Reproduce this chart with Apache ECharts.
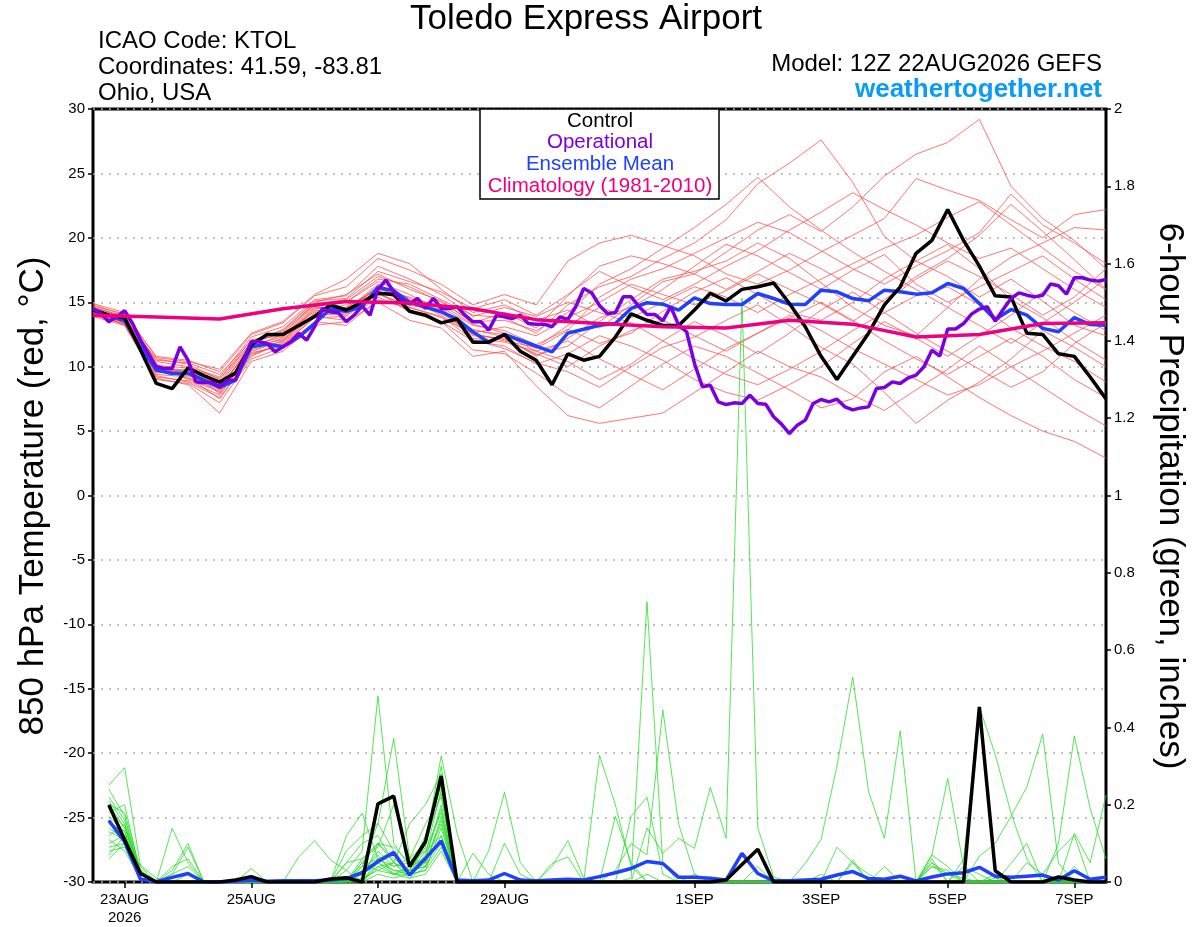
<!DOCTYPE html>
<html>
<head>
<meta charset="utf-8">
<title>Toledo Express Airport</title>
<style>
  html, body { margin: 0; padding: 0; background: #fff; }
  #chart { width: 1200px; height: 927px; }
</style>
</head>
<body>
<div id="chart"></div>
<script src="https://cdn.jsdelivr.net/npm/echarts/dist/echarts.min.js"></script>
<script>
// hours since 22AUG 12Z
var tickHours = [12, 60, 108, 156, 228, 276, 324, 372];
var tickLabels = ['23AUG\n2026', '25AUG', '27AUG', '29AUG', '1SEP', '3SEP', '5SEP', '7SEP'];

// control (6-hourly, from 22AUG12Z)
var controlTemp = [14.4, 14.0, 13.8, 11.3, 8.7, 8.3, 9.9, 9.3, 8.8, 9.5, 11.7, 12.5, 12.5, 13.2, 13.9, 14.8,
  14.4, 15.0, 15.7, 15.6, 14.3, 14.0, 13.4, 13.7, 11.9, 11.9, 12.5, 11.2, 10.5, 8.6, 11.0, 10.5,
  10.8, 12.3, 14.1, 13.6, 13.2, 13.2, 14.4, 15.7, 15.1, 16.0, 16.2, 16.5, 14.9, 13.1, 10.8, 9.0,
  10.8, 12.6, 14.8, 16.2, 18.8, 19.8, 22.2, 19.8, 17.8, 15.5, 15.4, 12.6, 12.5, 11.0, 10.8, 9.2, 7.5];
// ensemble mean (6-hourly)
var meanTemp = [14.4, 14.0, 13.55, 11.55, 9.73, 9.47, 9.5, 8.95, 8.4, 8.95, 11.55, 11.75, 11.55, 12.3, 13.35, 14.5,
  14.3, 14.65, 16.15, 15.9, 15.0, 14.65, 14.25, 13.7, 12.7, 11.9, 12.5, 12.05, 11.6, 11.15, 12.6, 12.9,
  13.22, 13.35, 14.52, 14.96, 14.85, 14.39, 15.34, 14.9, 14.83, 14.83, 15.68, 15.29, 14.85, 14.83, 15.94, 15.81,
  15.29, 15.11, 15.94, 15.81, 15.63, 15.73, 16.46, 16.07, 14.9, 13.66, 14.44, 14.0, 12.97, 12.71, 13.81, 13.27, 13.22];
// operational (3-hourly)
var operTemp = [14.52, 14.13, 13.48, 13.87, 14.34, 13.35, 12.06, 11.03, 9.99, 9.86, 9.86, 11.54, 10.5, 8.82, 8.75, 8.82,
  8.44, 8.95, 8.95, 10.5, 11.93, 11.93, 11.8, 11.15, 11.54, 11.93, 12.58, 12.06, 13.1, 14.52, 14.26, 14.18,
  13.5, 14.0, 14.7, 14.0, 16.0, 16.72, 15.81, 15.17, 14.86, 15.3, 14.52, 15.3, 14.52, 14.52, 14.65, 14.0,
  13.48, 13.48, 12.84, 14.0, 13.87, 13.74, 14.0, 13.35, 13.3, 13.3, 13.1, 13.87, 13.66, 14.65, 16.07, 15.74,
  14.75, 14.13, 14.18, 15.42, 15.42, 14.65, 14.05, 14.05, 13.56, 14.65, 13.22, 12.71, 10.25, 8.44, 8.56, 7.27,
  7.06, 7.19, 7.14, 7.79, 7.14, 7.09, 6.11, 5.54, 4.81, 5.46, 5.85, 7.14, 7.45, 7.27, 7.48, 6.88,
  6.65, 6.8, 6.88, 8.3, 8.38, 8.82, 8.69, 9.13, 9.34, 9.99, 11.28, 10.82, 12.92, 12.92, 13.35, 14.08,
  14.47, 14.65, 13.53, 14.44, 15.29, 15.73, 15.55, 15.42, 15.55, 16.41, 16.28, 15.63, 16.9, 16.9, 16.72, 16.64, 16.77];
// climatology (daily at 12Z)
var climTemp = [14.0, 13.85, 13.7, 14.5, 15.05, 14.95, 14.5, 13.65, 13.35, 13.1, 13.0, 13.6, 13.3, 12.3, 12.5, 13.35, 13.4];

// ensemble members, 850 hPa temperature (12-hourly)
var mem01 = [14.6, 13.9, 10.2, 9.0, 8.1, 11.8, 12.9, 15.0, 15.6, 17.2, 16.0, 15.1, 13.4, 14.2, 13.0, 15.5, 17.8, 18.6, 18.0, 17.2, 18.9, 20.6, 21.8, 20.5, 22.4, 24.8, 26.5, 27.4, 29.2, 24.0, 21.5, 19.8, 17.6];
var mem02 = [14.2, 13.4, 9.5, 9.8, 7.9, 11.0, 11.7, 13.8, 13.9, 15.8, 14.2, 13.5, 11.3, 11.0, 9.5, 7.8, 6.8, 8.5, 10.2, 11.6, 10.8, 9.5, 8.2, 6.8, 7.5, 9.6, 10.8, 9.2, 7.6, 6.2, 5.0, 4.2, 2.9];
var mem03 = [14.5, 13.7, 10.6, 10.2, 9.0, 12.1, 12.4, 14.9, 15.0, 16.8, 16.4, 15.2, 14.0, 13.8, 12.6, 14.8, 16.2, 17.0, 18.4, 19.6, 21.4, 24.2, 25.8, 27.6, 24.3, 20.1, 18.2, 17.0, 15.4, 16.8, 15.1, 13.2, 12.4];
var mem04 = [14.3, 13.2, 9.0, 8.7, 7.2, 10.6, 11.5, 13.5, 13.2, 15.2, 14.6, 13.9, 12.1, 11.4, 10.3, 9.6, 8.4, 10.0, 11.5, 12.3, 13.6, 14.8, 13.2, 11.5, 10.2, 8.0, 5.6, 7.4, 8.8, 10.6, 12.8, 11.5, 10.0];
var mem05 = [14.8, 14.0, 10.8, 10.5, 9.6, 12.5, 13.4, 15.5, 16.2, 18.4, 17.5, 16.4, 14.8, 15.6, 14.8, 18.2, 19.6, 20.2, 19.4, 18.6, 17.2, 16.4, 17.5, 18.9, 20.2, 21.5, 24.6, 23.7, 22.9, 21.4, 20.0, 21.8, 22.2];
var mem06 = [14.0, 13.5, 9.8, 9.1, 8.6, 11.3, 12.0, 14.2, 14.6, 16.0, 15.4, 14.6, 13.2, 12.8, 11.7, 12.9, 11.8, 12.6, 14.3, 15.8, 16.9, 15.6, 14.2, 13.6, 15.0, 16.8, 18.2, 19.5, 17.6, 15.2, 13.8, 12.0, 10.5];
var mem07 = [14.4, 13.6, 9.6, 9.4, 8.0, 11.4, 12.2, 14.6, 14.4, 16.4, 15.2, 14.0, 12.4, 12.2, 10.9, 11.6, 13.5, 15.2, 16.8, 17.4, 18.2, 19.6, 18.4, 16.5, 14.6, 13.2, 12.4, 14.6, 16.8, 18.5, 19.6, 20.8, 20.6];
var mem08 = [14.6, 13.8, 10.0, 9.6, 8.8, 11.9, 12.6, 14.8, 15.0, 16.6, 15.6, 14.4, 12.8, 12.5, 11.2, 10.4, 9.0, 10.2, 12.0, 13.5, 12.4, 11.0, 12.6, 14.4, 15.8, 14.2, 12.6, 11.2, 9.8, 8.4, 9.6, 11.8, 13.4];
var mem09 = [14.1, 13.3, 9.3, 8.8, 7.6, 10.9, 11.8, 14.0, 14.1, 15.6, 14.8, 14.2, 12.6, 13.1, 12.4, 13.8, 15.0, 16.4, 15.6, 14.8, 15.9, 17.2, 16.0, 14.9, 13.5, 15.2, 17.0, 18.4, 20.2, 22.6, 20.5, 18.3, 16.0];
var mem10 = [14.7, 14.1, 10.4, 10.0, 9.2, 12.3, 13.1, 15.2, 15.5, 17.8, 16.8, 15.6, 13.9, 14.6, 13.9, 15.0, 14.2, 13.4, 12.0, 10.6, 9.4, 8.6, 9.8, 11.2, 12.8, 14.2, 15.5, 16.2, 14.8, 13.0, 11.6, 10.4, 8.8];
var mem11 = [14.3, 13.5, 9.9, 9.7, 8.3, 11.6, 12.1, 14.4, 14.0, 15.9, 14.9, 14.3, 12.9, 12.3, 10.8, 12.2, 13.8, 14.6, 16.0, 17.8, 19.5, 18.6, 17.3, 16.0, 17.5, 18.7, 16.4, 15.0, 16.2, 17.4, 18.6, 16.8, 15.2];
var mem12 = [13.9, 13.2, 9.2, 8.9, 7.8, 11.1, 11.6, 13.9, 13.6, 15.4, 14.4, 13.5, 12.0, 11.6, 10.2, 11.0, 12.4, 11.6, 10.5, 9.0, 8.0, 7.4, 8.6, 10.0, 11.8, 13.5, 12.2, 10.8, 12.4, 14.0, 15.8, 14.2, 12.8];
var mem13 = [14.6, 13.9, 10.1, 9.9, 9.1, 11.8, 12.7, 14.9, 15.2, 17.0, 16.2, 15.0, 13.5, 13.6, 12.8, 14.2, 16.4, 17.6, 19.2, 20.8, 22.6, 24.7, 22.4, 20.6, 18.9, 17.4, 16.0, 14.6, 13.2, 11.8, 13.4, 15.0, 16.8];
var mem14 = [14.2, 13.4, 9.4, 9.2, 7.5, 10.8, 11.9, 14.1, 14.2, 16.2, 15.0, 14.6, 12.2, 11.9, 11.2, 12.0, 10.6, 9.4, 8.2, 9.8, 11.4, 12.6, 14.0, 12.8, 11.4, 10.2, 9.0, 7.8, 8.6, 10.0, 11.2, 12.6, 14.0];
var mem15 = [14.5, 13.6, 10.5, 10.3, 9.4, 12.0, 12.8, 15.1, 15.3, 17.4, 16.6, 15.8, 14.5, 15.2, 14.0, 15.6, 17.4, 16.2, 15.2, 16.4, 17.8, 19.0, 20.6, 22.0, 23.5, 22.2, 21.0, 19.6, 18.4, 19.2, 17.6, 16.0, 14.6];
var mem16 = [14.4, 13.7, 9.7, 9.3, 8.5, 11.5, 12.5, 14.3, 14.8, 15.7, 14.6, 13.8, 12.6, 12.0, 11.5, 13.2, 14.6, 13.8, 15.0, 16.2, 15.4, 14.2, 15.6, 16.8, 18.0, 19.2, 20.2, 21.6, 22.8, 21.0, 19.2, 17.4, 16.0];
var mem17 = [14.0, 13.3, 9.1, 8.6, 6.4, 10.4, 11.2, 13.2, 13.5, 15.0, 13.6, 13.0, 10.8, 11.2, 8.5, 6.2, 5.6, 6.0, 6.4, 8.0, 9.6, 11.2, 10.0, 9.2, 7.8, 6.6, 8.2, 9.8, 11.6, 10.0, 8.4, 6.8, 5.4];
var mem18 = [14.9, 14.2, 10.7, 10.4, 9.8, 12.6, 13.5, 15.6, 16.8, 18.8, 18.0, 16.0, 14.2, 14.8, 13.6, 14.4, 13.0, 14.8, 16.6, 17.2, 16.0, 17.4, 18.8, 17.6, 16.2, 15.0, 16.8, 18.2, 17.0, 15.6, 14.0, 15.4, 17.6];
var mem19 = [14.3, 13.6, 10.0, 9.4, 8.2, 11.2, 12.0, 14.5, 14.6, 16.1, 15.1, 14.8, 13.3, 12.6, 11.4, 12.8, 15.4, 16.8, 17.6, 18.8, 20.0, 21.2, 20.4, 19.0, 17.6, 16.4, 17.8, 19.0, 20.4, 23.4, 21.0, 19.6, 18.0];
var mem20 = [14.2, 13.5, 9.8, 9.5, 8.7, 11.7, 12.3, 14.7, 14.2, 16.3, 15.3, 14.2, 12.5, 12.1, 11.0, 10.0, 11.6, 12.8, 13.6, 12.4, 11.2, 12.6, 13.8, 15.0, 13.6, 12.0, 10.6, 9.4, 10.8, 12.2, 10.8, 9.0, 7.6];

// 6-hour precipitation (inches), ending 22AUG18Z .. 7SEP12Z
var controlPrecip = [0.199, 0.109, 0.022, 0, 0, 0, 0, 0, 0.005, 0.014, 0, 0, 0, 0, 0.008, 0.011,
  0, 0.202, 0.222, 0.04, 0.104, 0.274, 0, 0, 0, 0, 0, 0, 0, 0, 0, 0,
  0, 0, 0, 0, 0, 0, 0, 0.005, 0.045, 0.085, 0, 0, 0, 0, 0, 0,
  0, 0, 0, 0, 0, 0, 0, 0.453, 0.029, 0, 0, 0, 0.013, 0.005, 0, 0];
var meanPrecip = [0.159, 0.104, 0.007, 0.001, 0.012, 0.022, 0, 0, 0.002, 0.005, 0.002, 0.003, 0.003, 0.003, 0.005, 0.009,
  0.024, 0.053, 0.076, 0.018, 0.061, 0.106, 0.005, 0.003, 0.005, 0.022, 0.005, 0.003, 0.005, 0.007, 0.005, 0.014,
  0.024, 0.035, 0.053, 0.048, 0.012, 0.012, 0.01, 0.005, 0.074, 0.022, 0.003, 0.003, 0.005, 0.007, 0.018, 0.027,
  0.009, 0.007, 0.015, 0.003, 0.013, 0.021, 0.024, 0.038, 0.015, 0.012, 0.015, 0.018, 0.005, 0.029, 0.007, 0.012];

var pcp01 = [0.25, 0.296, 0.04, 0, 0.139, 0.05, 0, 0, 0, 0, 0, 0, 0, 0, 0, 0.03, 0.08, 0.481, 0.1, 0.04, 0.06, 0.2, 0, 0, 0, 0, 0, 0, 0, 0, 0, 0, 0, 0, 0.02, 0, 0, 0, 0, 0, 0, 0, 0, 0, 0, 0, 0, 0, 0, 0, 0, 0, 0.05, 0, 0, 0, 0, 0, 0, 0, 0, 0, 0, 0];
var pcp02 = [0.2, 0.18, 0.03, 0, 0.03, 0.1, 0, 0, 0, 0.035, 0, 0, 0, 0, 0, 0.08, 0.12, 0.15, 0.372, 0.06, 0.1, 0.326, 0.126, 0, 0, 0, 0, 0, 0, 0, 0, 0, 0, 0, 0, 0, 0, 0.02, 0, 0, 0, 0, 0, 0, 0, 0, 0, 0, 0, 0, 0, 0, 0, 0, 0, 0, 0, 0, 0, 0, 0, 0.04, 0, 0];
var pcp03 = [0.12, 0.15, 0.02, 0, 0.02, 0.09, 0, 0, 0, 0.01, 0, 0, 0, 0, 0, 0, 0.05, 0.1, 0.05, 0.15, 0.2, 0.28, 0, 0.074, 0.02, 0, 0, 0, 0, 0, 0, 0, 0, 0, 0, 0, 0, 0, 0, 0, 0, 0, 0, 0, 0, 0, 0.09, 0.05, 0, 0, 0, 0, 0, 0, 0, 0, 0, 0, 0, 0, 0, 0, 0, 0];
var pcp04 = [0.06, 0.1, 0.044, 0.01, 0, 0, 0, 0, 0, 0, 0, 0, 0.065, 0.107, 0.057, 0.03, 0, 0.04, 0.02, 0.03, 0.12, 0.25, 0, 0, 0.081, 0.232, 0.05, 0, 0, 0, 0, 0, 0, 0, 0, 0, 0, 0, 0, 0, 0, 0, 0, 0, 0, 0, 0, 0, 0, 0, 0, 0, 0, 0, 0, 0, 0.02, 0, 0, 0, 0, 0, 0, 0];
var pcp05 = [0.18, 0.2, 0.02, 0, 0.04, 0.06, 0, 0, 0, 0, 0, 0, 0, 0, 0, 0.119, 0.178, 0.06, 0.08, 0.02, 0.05, 0.15, 0, 0, 0, 0.1, 0.02, 0, 0.04, 0.107, 0.01, 0, 0.17, 0.05, 0, 0, 0, 0, 0, 0, 0, 0, 0, 0, 0, 0, 0, 0, 0, 0, 0, 0, 0, 0, 0, 0, 0, 0, 0, 0, 0, 0, 0, 0];
var pcp06 = [0.15, 0.13, 0.01, 0, 0, 0, 0, 0, 0, 0, 0, 0, 0, 0, 0, 0, 0.06, 0.1, 0.09, 0.05, 0.08, 0.18, 0, 0, 0, 0, 0, 0, 0.048, 0.065, 0, 0.328, 0.2, 0.04, 0, 0, 0, 0, 0, 0, 0, 0, 0, 0, 0, 0.02, 0, 0, 0, 0, 0, 0, 0.07, 0.04, 0, 0, 0, 0, 0, 0, 0, 0, 0, 0];
var pcp07 = [0.22, 0.16, 0.03, 0, 0.02, 0.04, 0, 0, 0, 0, 0, 0, 0, 0, 0, 0.05, 0.1, 0.12, 0.05, 0.03, 0.09, 0.3, 0, 0, 0, 0, 0, 0, 0, 0, 0, 0, 0, 0.01, 0.725, 0.05, 0, 0, 0, 0, 0, 0, 0, 0, 0, 0, 0, 0, 0, 0, 0, 0, 0, 0, 0, 0, 0, 0, 0, 0, 0, 0, 0, 0];
var pcp08 = [0.1, 0.12, 0.02, 0, 0, 0, 0, 0, 0, 0, 0, 0, 0, 0, 0, 0.05, 0.06, 0.09, 0.2, 0.06, 0.15, 0.22, 0, 0, 0, 0, 0, 0, 0, 0, 0, 0, 0.03, 0.1, 0.07, 0.445, 0.15, 0.02, 0, 0, 0, 0, 0, 0, 0, 0, 0, 0, 0, 0, 0, 0, 0, 0, 0, 0, 0, 0, 0, 0, 0, 0, 0, 0];
var pcp09 = [0.16, 0.12, 0.02, 0, 0, 0, 0, 0, 0, 0, 0, 0, 0, 0, 0, 0, 0, 0.05, 0.02, 0.01, 0.04, 0.12, 0, 0, 0, 0, 0, 0, 0, 0, 0, 0, 0, 0, 0.14, 0.074, 0.113, 0.087, 0.245, 0.113, 1.51, 0.14, 0.013, 0, 0, 0, 0, 0, 0, 0, 0, 0, 0, 0, 0, 0, 0, 0, 0, 0, 0, 0, 0, 0];
var pcp10 = [0.19, 0.14, 0.03, 0, 0, 0.02, 0, 0, 0, 0, 0, 0, 0, 0, 0, 0, 0.04, 0.152, 0.08, 0.02, 0.1, 0.26, 0, 0, 0, 0, 0, 0, 0, 0, 0, 0, 0, 0.17, 0.22, 0.02, 0, 0, 0, 0, 0, 0.04, 0, 0, 0.048, 0.11, 0.3, 0.53, 0.234, 0.113, 0.391, 0, 0, 0, 0, 0, 0, 0, 0, 0, 0, 0, 0, 0];
var pcp11 = [0.13, 0.11, 0.01, 0, 0, 0, 0, 0, 0, 0, 0, 0, 0, 0, 0, 0, 0.02, 0.08, 0.04, 0.06, 0.05, 0.16, 0, 0, 0, 0, 0, 0, 0, 0, 0, 0, 0, 0, 0, 0, 0, 0, 0, 0, 0, 0, 0, 0, 0, 0, 0, 0.057, 0, 0, 0, 0, 0.07, 0.268, 0.04, 0, 0.01, 0, 0, 0, 0, 0, 0, 0];
var pcp12 = [0.09, 0.1, 0.02, 0, 0, 0, 0, 0, 0, 0, 0, 0, 0, 0, 0, 0, 0, 0.06, 0.03, 0.02, 0.07, 0.24, 0, 0, 0, 0, 0, 0, 0, 0, 0, 0, 0, 0, 0, 0, 0, 0, 0, 0, 0, 0, 0, 0, 0, 0, 0, 0, 0, 0, 0, 0, 0, 0, 0.058, 0.453, 0.33, 0.178, 0.06, 0, 0, 0, 0, 0, 0];
var pcp13 = [0.24, 0.17, 0.02, 0, 0, 0, 0, 0, 0, 0, 0, 0, 0, 0, 0, 0, 0, 0.1, 0.06, 0.03, 0.04, 0.1, 0, 0, 0, 0, 0, 0, 0, 0, 0, 0, 0, 0, 0, 0, 0, 0, 0, 0, 0, 0, 0, 0, 0, 0, 0, 0, 0, 0, 0, 0, 0, 0, 0, 0.067, 0.1, 0.17, 0.246, 0.383, 0.048, 0, 0, 0];
var pcp14 = [0.08, 0.09, 0.01, 0, 0, 0, 0, 0, 0, 0, 0, 0, 0, 0, 0, 0, 0, 0.04, 0.05, 0.02, 0.03, 0.14, 0, 0, 0, 0, 0, 0, 0, 0, 0, 0, 0, 0, 0, 0, 0, 0, 0, 0, 0, 0, 0, 0, 0, 0, 0, 0, 0, 0, 0, 0, 0, 0, 0, 0, 0, 0, 0, 0, 0.1, 0.378, 0.19, 0.06];
var pcp15 = [0.21, 0.15, 0.02, 0, 0, 0, 0, 0, 0, 0, 0, 0, 0, 0, 0, 0, 0.03, 0.07, 0.02, 0.04, 0.06, 0.19, 0, 0, 0, 0, 0, 0, 0, 0, 0, 0, 0, 0, 0, 0, 0, 0, 0, 0, 0, 0, 0, 0, 0, 0, 0, 0, 0, 0.04, 0, 0, 0.06, 0, 0.04, 0.02, 0, 0.048, 0.1, 0, 0, 0.126, 0.05, 0.225];
var pcp16 = [0.17, 0.13, 0.02, 0, 0, 0, 0, 0, 0, 0, 0, 0, 0, 0, 0, 0, 0.05, 0.03, 0.05, 0.01, 0.02, 0.08, 0, 0, 0, 0, 0, 0, 0, 0, 0, 0, 0, 0, 0, 0, 0, 0, 0, 0, 0, 0, 0, 0, 0, 0, 0, 0.05, 0.02, 0, 0, 0, 0.04, 0.03, 0, 0, 0, 0, 0.05, 0.02, 0.08, 0.12, 0, 0];
var pcp17 = [0.14, 0.11, 0.01, 0, 0, 0, 0, 0, 0, 0, 0, 0, 0, 0, 0, 0, 0.02, 0.05, 0.03, 0.03, 0.04, 0.17, 0, 0, 0, 0, 0, 0, 0, 0, 0, 0, 0, 0, 0, 0, 0, 0, 0, 0, 0, 0, 0, 0, 0, 0, 0, 0, 0, 0, 0, 0, 0.05, 0.02, 0.01, 0, 0, 0, 0, 0, 0, 0, 0, 0];
var pcp18 = [0.11, 0.08, 0.01, 0, 0, 0, 0, 0, 0, 0, 0, 0, 0, 0, 0, 0, 0.01, 0.03, 0.02, 0.02, 0.08, 0.12, 0, 0, 0, 0, 0, 0, 0, 0, 0, 0, 0, 0, 0, 0, 0, 0, 0, 0, 0, 0, 0, 0, 0, 0, 0, 0, 0, 0, 0, 0, 0, 0, 0, 0, 0, 0, 0, 0, 0, 0, 0, 0];
var pcp19 = [0.07, 0.12, 0.02, 0, 0, 0, 0, 0, 0, 0, 0, 0, 0, 0, 0, 0, 0, 0.02, 0.01, 0.02, 0.03, 0.09, 0, 0, 0, 0, 0, 0, 0, 0, 0, 0, 0, 0, 0, 0, 0, 0, 0, 0, 0, 0, 0, 0, 0, 0, 0, 0, 0, 0, 0, 0, 0, 0, 0, 0, 0, 0, 0, 0, 0, 0, 0, 0];
var pcp20 = [0.2, 0.14, 0.02, 0, 0, 0, 0, 0, 0, 0, 0, 0, 0, 0, 0, 0, 0.04, 0.06, 0.04, 0.05, 0.1, 0.23, 0, 0, 0, 0, 0, 0, 0, 0, 0, 0, 0, 0, 0, 0, 0, 0, 0, 0, 0, 0, 0, 0, 0, 0, 0, 0, 0, 0, 0, 0, 0.04, 0.02, 0, 0, 0, 0, 0, 0, 0, 0, 0, 0];

var tempMembers = [mem01, mem02, mem03, mem04, mem05, mem06, mem07, mem08, mem09, mem10,
  mem11, mem12, mem13, mem14, mem15, mem16, mem17, mem18, mem19, mem20];
var precipMembers = [pcp01, pcp02, pcp03, pcp04, pcp05, pcp06, pcp07, pcp08, pcp09, pcp10,
  pcp11, pcp12, pcp13, pcp14, pcp15, pcp16, pcp17, pcp18, pcp19, pcp20];

var FONT = "'Liberation Sans', Arial, Helvetica, sans-serif";

// value arrays -> [hour, value]
function toPairs(arr, step, first) {
  return arr.map(function (v, i) { return [first + i * step, v]; });
}

function thinLine(name, data, axis, color) {
  return {
    name: name, type: 'line', yAxisIndex: axis, data: data,
    symbol: 'none', silent: true, z: 2,
    lineStyle: { color: color, width: 0.9, opacity: 0.85 }
  };
}
function thickLine(name, data, axis, color, z) {
  return {
    name: name, type: 'line', yAxisIndex: axis, data: data,
    symbol: 'none', silent: true, z: z,
    lineStyle: { color: color, width: 3.5 }
  };
}

var series = [];
tempMembers.forEach(function (m, i) {
  series.push(thinLine('t' + i, toPairs(m, 12, 0), 0, '#ff4a4a'));
});
precipMembers.forEach(function (m, i) {
  series.push(thinLine('p' + i, toPairs(m, 6, 6), 1, '#22dd22'));
});
series.push(thickLine('Ensemble Mean', toPairs(meanTemp, 6, 0), 0, '#2040ff', 4));
series.push(thickLine('Ensemble Mean P', toPairs(meanPrecip, 6, 6), 1, '#2040ff', 4));
series.push(thickLine('Control', toPairs(controlTemp, 6, 0), 0, '#000000', 5));
series.push(thickLine('Control P', toPairs(controlPrecip, 6, 6), 1, '#000000', 5));
series.push(thickLine('Operational', toPairs(operTemp, 3, 0), 0, '#7a00e0', 6));
series.push(thickLine('Climatology', toPairs(climTemp, 24, 0), 0, '#ee0080', 7));

var myChart = echarts.init(document.getElementById('chart'), null, { renderer: 'canvas' });

var option = {
  backgroundColor: '#fff',
  animation: false,
  textStyle: { fontFamily: FONT },
  grid: {
    left: 93, right: 94, top: 109, bottom: 45,
    show: true, borderColor: '#000', borderWidth: 3, backgroundColor: 'transparent',
    containLabel: false
  },
  xAxis: {
    type: 'value', min: 0, max: 384, position: 'bottom',
    axisLine: { show: false, onZero: false },
    splitLine: { show: false },
    axisTick: { show: true, customValues: tickHours, length: 6, lineStyle: { color: '#000', width: 1.5 } },
    axisLabel: {
      customValues: tickHours, margin: 9, color: '#000', fontSize: 15, lineHeight: 18,
      fontFamily: FONT,
      formatter: function (v) { return tickLabels[tickHours.indexOf(v)]; }
    }
  },
  yAxis: [
    {
      type: 'value', min: -30, max: 30, interval: 5, position: 'left',
      axisLine: { show: false, onZero: false },
      axisTick: { show: true, length: 5, lineStyle: { color: '#000', width: 1.5 } },
      axisLabel: { color: '#000', fontSize: 15, margin: 8, fontFamily: FONT },
      splitLine: { show: true, lineStyle: { color: '#aaaaaa', width: 1.5, type: [2, 6] } }
    },
    {
      type: 'value', min: 0, max: 2, interval: 0.2, position: 'right',
      axisLine: { show: false, onZero: false },
      axisTick: { show: true, length: 5, lineStyle: { color: '#000', width: 1.5 } },
      axisLabel: {
        color: '#000', fontSize: 15, margin: 8, fontFamily: FONT,
        formatter: function (v) { return String(+v.toFixed(1)); }
      },
      splitLine: { show: false }
    }
  ],
  series: series,
  graphic: [
    { type: 'text', x: 586, y: 19, z: 100, style: { text: 'Toledo Express Airport', align: 'center', verticalAlign: 'middle', font: '35px ' + FONT, fill: '#000' } },
    { type: 'text', x: 98, y: 41, z: 100, style: { text: 'ICAO Code: KTOL', align: 'left', verticalAlign: 'middle', font: '24px ' + FONT, fill: '#000' } },
    { type: 'text', x: 98, y: 67, z: 100, style: { text: 'Coordinates: 41.59, -83.81', align: 'left', verticalAlign: 'middle', font: '24px ' + FONT, fill: '#000' } },
    { type: 'text', x: 98, y: 93, z: 100, style: { text: 'Ohio, USA', align: 'left', verticalAlign: 'middle', font: '24px ' + FONT, fill: '#000' } },
    { type: 'text', x: 1102, y: 64, z: 100, style: { text: 'Model: 12Z 22AUG2026 GEFS', align: 'right', verticalAlign: 'middle', font: '24px ' + FONT, fill: '#000' } },
    { type: 'text', x: 1102, y: 90, z: 100, style: { text: 'weathertogether.net', align: 'right', verticalAlign: 'middle', font: 'bold 26px ' + FONT, fill: '#0a9cf5' } },
    // legend box
    { type: 'rect', z: 100, shape: { x: 480, y: 109, width: 239, height: 90 }, style: { fill: '#fff', stroke: '#000', lineWidth: 1.5 } },
    { type: 'text', x: 600, y: 121, z: 101, style: { text: 'Control', align: 'center', verticalAlign: 'middle', font: '20.5px ' + FONT, fill: '#000' } },
    { type: 'text', x: 600, y: 142, z: 101, style: { text: 'Operational', align: 'center', verticalAlign: 'middle', font: '20.5px ' + FONT, fill: '#7a00e0' } },
    { type: 'text', x: 600, y: 164, z: 101, style: { text: 'Ensemble Mean', align: 'center', verticalAlign: 'middle', font: '20.5px ' + FONT, fill: '#2040ff' } },
    { type: 'text', x: 600, y: 186, z: 101, style: { text: 'Climatology (1981-2010)', align: 'center', verticalAlign: 'middle', font: '20.5px ' + FONT, fill: '#ee0080' } },
    // axis titles
    { type: 'text', x: 33, y: 496, rotation: Math.PI / 2, z: 100, style: { text: '850 hPa Temperature (red, \u00B0C)', align: 'center', verticalAlign: 'middle', font: '35px ' + FONT, fill: '#000' } },
    { type: 'text', x: 1170, y: 496, rotation: -Math.PI / 2, z: 100, style: { text: '6-hour Precipitation (green, inches)', align: 'center', verticalAlign: 'middle', font: '35px ' + FONT, fill: '#000' } }
  ]
};
myChart.setOption(option);
</script>
</body>
</html>
